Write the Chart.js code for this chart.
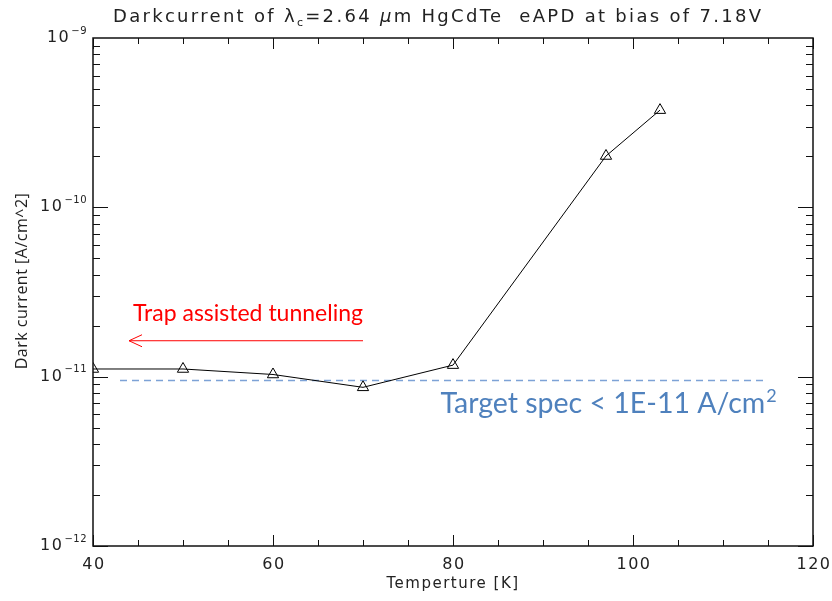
<!DOCTYPE html>
<html>
<head>
<meta charset="utf-8">
<script src="https://cdn.jsdelivr.net/npm/chart.js@4.4.0/dist/chart.umd.min.js"></script>
<style>
  body { margin: 0; background: #fff; }
  canvas { display: block; }
</style>
</head>
<body>
<canvas id="darkChart" width="832" height="601"></canvas>
<script>
// measured points
const temps = [40, 50, 60, 70, 80, 97, 103];
const darkCurrent = [1.11e-11, 1.11e-11, 1.03e-11, 8.65e-12, 1.17e-11, 2.01e-10, 3.75e-10];

// target spec line
const targetX = [43, 115];
const targetY = [9.5e-12, 9.5e-12];

// trap assisted tunneling arrow (points right to left)
const arrowX = [70, 44];
const arrowY = [1.63e-11, 1.63e-11];

// axis ticks
const xTickLabels = [40, 60, 80, 100, 120];
const yTickExps = [-12, -11, -10, -9];

const hersheyFont = '"DejaVu Sans", sans-serif';
const officeFont = 'Lato, "Open Sans", sans-serif';

const framePlugin = {
  id: 'frame',
  afterDatasetsDraw(chart) {
    const ctx = chart.ctx;
    const area = chart.chartArea;
    const xs = chart.scales.x;
    const ys = chart.scales.y;
    ctx.save();

    // box
    ctx.strokeStyle = '#111';
    ctx.lineWidth = 1.5;
    ctx.strokeRect(area.left, area.top, area.right - area.left, area.bottom - area.top);

    // x ticks (major 20, minor 5)
    ctx.lineWidth = 1;
    for (let v = xs.min; v <= xs.max; v += 5) {
      const px = Math.round(xs.getPixelForValue(v)) + 0.5;
      const len = (v % 20 === 0) ? 11 : 6;
      ctx.beginPath();
      ctx.moveTo(px, area.bottom); ctx.lineTo(px, area.bottom - len);
      ctx.moveTo(px, area.top); ctx.lineTo(px, area.top + len);
      ctx.stroke();
    }
    // y ticks (log)
    for (let e = yTickExps[0]; e < yTickExps[yTickExps.length - 1]; e++) {
      for (let m = 1; m < 10; m++) {
        const py = Math.round(ys.getPixelForValue(m * Math.pow(10, e))) + 0.5;
        const len = m === 1 ? 15 : 7;
        ctx.beginPath();
        ctx.moveTo(area.left, py); ctx.lineTo(area.left + len, py);
        ctx.moveTo(area.right, py); ctx.lineTo(area.right - len, py);
        ctx.stroke();
      }
    }

    // x tick labels
    ctx.fillStyle = '#222';
    ctx.letterSpacing = '1.5px';
    ctx.font = '16px ' + hersheyFont;
    ctx.textAlign = 'center';
    ctx.textBaseline = 'top';
    xTickLabels.forEach(v => {
      ctx.fillText(String(v), xs.getPixelForValue(v) + 1, area.bottom + 11);
    });

    // y tick labels 10^e
    yTickExps.forEach(e => {
      const py = ys.getPixelForValue(Math.pow(10, e));
      ctx.letterSpacing = '0.5px';
      ctx.font = '10px ' + hersheyFont;
      const sup = '\u2212' + Math.abs(e);
      const supW = ctx.measureText(sup).width;
      ctx.textAlign = 'right';
      ctx.textBaseline = 'middle';
      ctx.fillText(sup, area.left - 6, py - 7);
      ctx.letterSpacing = '1.5px';
      ctx.font = '16px ' + hersheyFont;
      ctx.fillText('10', area.left - 7 - supW, py);
    });

    // axis titles
    ctx.textAlign = 'center';
    ctx.textBaseline = 'middle';
    ctx.letterSpacing = '1.5px';
    ctx.font = '15px ' + hersheyFont;
    ctx.fillText('Temperture [K]', (area.left + area.right) / 2, area.bottom + 38);

    ctx.save();
    ctx.translate(22, (area.top + area.bottom) / 2 - 11);
    ctx.rotate(-Math.PI / 2);
    ctx.letterSpacing = '0.5px';
    ctx.font = '16px "Open Sans", sans-serif';
    ctx.fillText('Dark current [A/cm^2]', 0, 0);
    ctx.restore();

    // title with lambda_c subscript
    const parts = [
      ['Darkcurrent of \u03bb', 18, 0],
      ['c', 11, 4],
      ['=2.64 ', 18, 0],
      ['\u03bc', 18, 0, 'italic '],
      ['m HgCdTe  eAPD at bias of 7.18V', 18, 0]
    ];
    ctx.letterSpacing = '2.3px';
    let tx = 113;
    ctx.textAlign = 'left';
    ctx.textBaseline = 'alphabetic';
    parts.forEach(p => {
      ctx.font = (p[3] || '') + p[1] + 'px ' + hersheyFont;
      ctx.fillText(p[0], tx, 22 + p[2]);
      tx += ctx.measureText(p[0]).width;
    });
    ctx.letterSpacing = '0px';

    // arrow head on the tunneling arrow
    const arrowMeta = chart.getDatasetMeta(2).data;
    const tip = arrowMeta[arrowMeta.length - 1];
    ctx.strokeStyle = '#ff0000';
    ctx.lineWidth = 1;
    ctx.beginPath();
    ctx.moveTo(tip.x + 13, tip.y - 6);
    ctx.lineTo(tip.x, tip.y);
    ctx.lineTo(tip.x + 13, tip.y + 6);
    ctx.stroke();

    // red annotation
    const start = arrowMeta[0];
    ctx.fillStyle = '#ff0000';
    ctx.font = '23px ' + officeFont;
    ctx.textAlign = 'center';
    ctx.textBaseline = 'middle';
    ctx.fillText('Trap assisted tunneling', (start.x + tip.x) / 2 + 2, tip.y - 27);

    // target spec annotation
    ctx.fillStyle = '#4f81bd';
    ctx.font = '28.5px ' + officeFont;
    ctx.textAlign = 'left';
    ctx.textBaseline = 'middle';
    const lx = xs.getPixelForValue(78.6);
    const ly = ys.getPixelForValue(6.9e-12);
    ctx.fillText('Target spec < 1E-11 A/cm', lx, ly);
    const w = ctx.measureText('Target spec < 1E-11 A/cm').width;
    ctx.font = '18px ' + officeFont;
    ctx.fillText('2', lx + w + 1, ly - 8);

    ctx.restore();
  }
};

const ctx = document.getElementById('darkChart').getContext('2d');
window.darkChart = new Chart(ctx, {
  type: 'line',
  data: {
    datasets: [
      {
        label: 'Dark current',
        data: temps.map((t, i) => ({ x: t, y: darkCurrent[i] })),
        borderColor: '#000',
        borderWidth: 1,
        pointStyle: 'triangle',
        pointRadius: 6.5,
        pointBorderColor: '#000',
        pointBorderWidth: 1,
        pointBackgroundColor: 'rgba(0,0,0,0)',
        tension: 0,
        clip: 0
      },
      {
        label: 'Target spec',
        data: targetX.map((t, i) => ({ x: t, y: targetY[i] })),
        borderColor: '#7da2d6',
        borderWidth: 1.5,
        borderDash: [7, 5],
        pointRadius: 0
      },
      {
        label: 'Trap assisted tunneling',
        data: arrowX.map((t, i) => ({ x: t, y: arrowY[i] })),
        borderColor: '#ff0000',
        borderWidth: 1,
        pointRadius: 0
      }
    ]
  },
  options: {
    responsive: false,
    maintainAspectRatio: false,
    animation: false,
    layout: { padding: { left: 93, top: 38, right: 19, bottom: 55 } },
    scales: {
      x: { type: 'linear', min: 40, max: 120, display: false },
      y: { type: 'logarithmic', min: 1e-12, max: 1e-9, display: false }
    },
    plugins: {
      legend: { display: false },
      tooltip: { enabled: false }
    }
  },
  plugins: [framePlugin]
});
</script>
</body>
</html>
